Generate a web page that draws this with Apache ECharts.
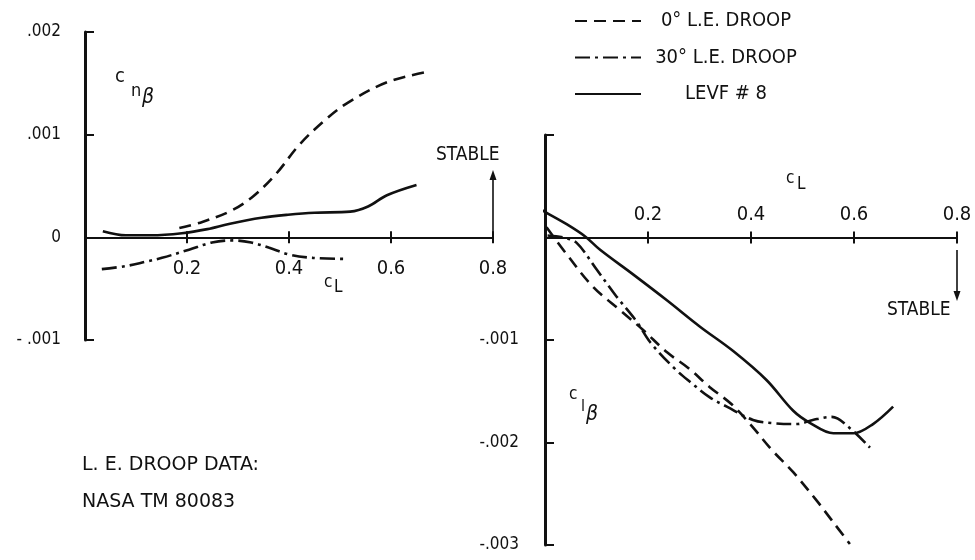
<!DOCTYPE html>
<html><head><meta charset="utf-8">
<script src="https://cdn.jsdelivr.net/npm/echarts@6/dist/echarts.min.js"></script>
<style>html,body{margin:0;padding:0;background:#fff}#c{width:975px;height:560px}</style>
</head><body><div id="c"></div>
<script>
// ---- data ----
const seriesNames = ['0° L.E. DROOP', '30° L.E. DROOP', 'LEVF # 8'];
const xTicks = [0.2, 0.4, 0.6, 0.8];
const cnYTickLabels = ['- .001', '0', '.001', '.002'];      // for -0.001..0.002
const clYTickLabels = ['-.003', '-.002', '-.001', '', ''];  // for -0.003..0.001
// C_n_beta vs C_L  [CL, value]
const cn0 = [[0.185,0.00009],[0.23,0.00015],[0.287,0.00026],[0.33,0.0004],[0.375,0.00062],[0.42,0.0009],[0.47,0.00114],[0.515,0.00131],[0.592,0.00151],[0.67,0.00161]];
const cn30 = [[0.033,-0.00031],[0.08,-0.00028],[0.117,-0.00024],[0.151,-0.0002],[0.204,-0.00012],[0.249,-0.00005],[0.29,-0.00003],[0.326,-0.00005],[0.36,-0.0001],[0.402,-0.00017],[0.447,-0.0002],[0.509,-0.00021]];
const cnLevf = [[0.035,0.00006],[0.08,0.00002],[0.13,0.00002],[0.19,0.00004],[0.24,0.00008],[0.282,0.00013],[0.346,0.00019],[0.398,0.00022],[0.45,0.00024],[0.52,0.00025],[0.555,0.0003],[0.592,0.00041],[0.65,0.00051]];
// C_l_beta vs C_L
const cl0 = [[0.003,0.0001],[0.04,-0.00015],[0.093,-0.00048],[0.146,-0.00071],[0.19,-0.0009],[0.237,-0.00112],[0.28,-0.00128],[0.32,-0.00146],[0.363,-0.00163],[0.40,-0.00183],[0.44,-0.00207],[0.482,-0.00229],[0.528,-0.00257],[0.557,-0.00276],[0.592,-0.00299]];
const cl30 = [[0.005,0.00002],[0.035,0.0],[0.061,-0.00005],[0.1,-0.00031],[0.138,-0.00057],[0.178,-0.00082],[0.204,-0.00102],[0.252,-0.00128],[0.282,-0.00141],[0.32,-0.00156],[0.353,-0.00165],[0.404,-0.00178],[0.44,-0.00181],[0.489,-0.00182],[0.52,-0.00178],[0.557,-0.00175],[0.592,-0.00186],[0.631,-0.00205]];
const clLevf = [[-0.045,0.00038],[0,0.00025],[0.042,0.00013],[0.078,0.00001],[0.107,-0.00012],[0.171,-0.00036],[0.236,-0.00061],[0.301,-0.00087],[0.366,-0.00111],[0.43,-0.00139],[0.482,-0.00169],[0.515,-0.00181],[0.56,-0.00191],[0.599,-0.00191],[0.637,-0.00182],[0.676,-0.00165]];

const FONT = "'DejaVu Sans Condensed','Liberation Sans Narrow','DejaVu Sans',sans-serif";
const WFONT = "'DejaVu Sans',sans-serif";
const BLACK = '#111';
const styles = [
  {type:[12,7], width:2.6},
  {type:[15,5,3,5], width:2.6},
  {type:'solid', width:2.6}
];

// grid geometry
const G0 = {left:85, top:32, width:408, height:308};
const G1 = {left:545, top:135, width:412, height:410};
const zero0 = G0.top + G0.height * (0.002 / 0.003);
const zero1 = G1.top + G1.height * (0.001 / 0.004);

function xAx(grid, pos, offset, main, margin) {
  return {
    type:'value', gridIndex:grid, position:pos, offset:offset, min:0, max:0.8, interval:0.2,
    axisLine:{show:main, onZero:false, lineStyle:{color:BLACK, width:2.2}},
    axisTick:{show:true, length:6, lineStyle:{color:BLACK, width:2}, customValues: xTicks},
    splitLine:{show:false},
    axisLabel:{show:main, margin:margin||16, color:BLACK, fontFamily:FONT, fontSize:20,
      formatter:v=> v===0 ? '' : v.toFixed(1)}
  };
}
function yAx(grid, min, max, labels, margin) {
  return {
    type:'value', gridIndex:grid, min:min, max:max, interval:0.001,
    axisLine:{show:true, onZero:false, lineStyle:{color:BLACK, width:3}},
    axisTick:{show:true, inside:true, length:9, lineStyle:{color:BLACK, width:2}},
    splitLine:{show:false},
    axisLabel:{margin:margin, color:BLACK, fontFamily:FONT, fontSize:17,
      formatter:v=>{ const i = Math.round((v-min)/0.001); return labels[i] ?? ''; }}
  };
}
function ser(name, idx, xi, yi, data) {
  return {name:name, type:'line', xAxisIndex:xi, yAxisIndex:yi, data:data, smooth:0.35,
    symbol:'none', showSymbol:false, clip:false, silent:true,
    itemStyle:{color:BLACK},
    lineStyle:{color:BLACK, width:styles[idx].width, type:styles[idx].type}};
}
function txt(x,y,s,size,font){
  return {type:'text', left:x, top:y, silent:true,
    style:{text:s, fill:BLACK, font:size+'px '+(font||FONT)}};
}

const chart = echarts.init(document.getElementById('c'), null, {renderer:'canvas'});
chart.setOption({
  animation:false,
  backgroundColor:'#fff',
  grid:[G0, G1],
  xAxis:[
    xAx(0,'bottom', -(G0.top + G0.height - zero0), true, 21),
    xAx(0,'top', -(zero0 - G0.top), false),
    xAx(1,'top', -(zero1 - G1.top), true, 13),
    xAx(1,'bottom', -(G1.top + G1.height - zero1), false)
  ],
  yAxis:[ yAx(0,-0.001,0.002,cnYTickLabels,24), yAx(1,-0.003,0.001,clYTickLabels,26) ],
  legend:{
    show:true, orient:'vertical', left:574, top:11, padding:0, itemWidth:66, itemHeight:14, itemGap:16.5,
    selectedMode:false, data:seriesNames,
    itemStyle:{opacity:0, color:'transparent', borderWidth:0},
    textStyle:{color:BLACK, fontFamily:FONT, fontSize:20,
      rich:{c:{width:160, align:'center', fontFamily:FONT, fontSize:20, color:BLACK}}},
    formatter:n=>'{c|'+n+'}'
  },
  series:[
    ser(seriesNames[0],0,0,0,cn0),
    ser(seriesNames[1],1,0,0,cn30),
    ser(seriesNames[2],2,0,0,cnLevf),
    ser(seriesNames[0],0,2,1,cl0),
    ser(seriesNames[1],1,2,1,cl30),
    ser(seriesNames[2],2,2,1,clLevf)
  ],
  graphic:[
    // C_n_beta
    txt(115,67,'c',20), txt(131,82,'n',18), {type:'text', left:142, top:87, silent:true, style:{text:'β', fill:BLACK, font:'italic 21px '+FONT}},
    // C_L (left)
    txt(324,274,'c',17), txt(334,279,'L',17),
    // STABLE left + arrow
    txt(436,146,'STABLE',19),
    {type:'line', silent:true, shape:{x1:493,y1:236,x2:493,y2:176}, style:{stroke:BLACK, lineWidth:1.6}},
    {type:'polygon', silent:true, shape:{points:[[493,170],[489.5,180],[496.5,180]]}, style:{fill:BLACK}},
    // C_L (right)
    txt(786,170,'c',17), txt(797,176,'L',17),
    // STABLE right + arrow
    txt(887,301,'STABLE',19),
    {type:'line', silent:true, shape:{x1:957,y1:250,x2:957,y2:294}, style:{stroke:BLACK, lineWidth:1.6}},
    {type:'polygon', silent:true, shape:{points:[[957,301],[953.5,291],[960.5,291]]}, style:{fill:BLACK}},
    // C_l_beta
    txt(569,386,'c',17), txt(581,399,'l',16), {type:'text', left:586, top:404, silent:true, style:{text:'β', fill:BLACK, font:'italic 21px '+FONT}},
    // note
    txt(82,456,'L. E. DROOP DATA:',19,WFONT),
    txt(82,493,'NASA TM 80083',19,WFONT)
  ]
});
</script></body></html>
